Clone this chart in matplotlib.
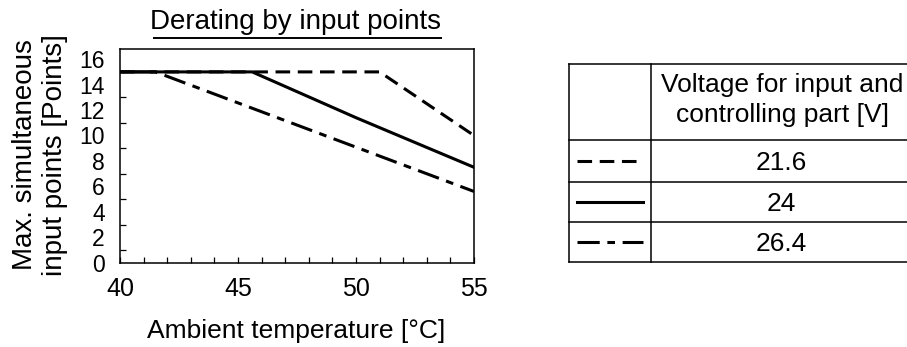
import matplotlib
matplotlib.use("Agg")
import matplotlib.pyplot as plt

plt.rcParams['font.family'] = ['Liberation Sans', 'DejaVu Sans']
plt.rcParams['lines.scale_dashes'] = False

# ---- data ----
temp_216 = [40, 51, 55]
pts_216 = [15, 15, 10]
temp_24 = [40, 45.6, 50, 55]
pts_24 = [15, 15, 11.4, 7.5]
temp_264 = [40, 41.5, 55]
pts_264 = [15, 15, 5.6]
voltages = ["21.6", "24", "26.4"]
xticks = [40, 45, 50, 55]
yticks = [0, 2, 4, 6, 8, 10, 12, 14, 16]
title = "Derating by input points"
xlabel = "Ambient temperature [\u00b0C]"
ylabel_lines = ["Max. simultaneous", "input points [Points]"]
header_lines = ["Voltage for input and", "controlling part [V]"]

W, H = 907, 347
fig = plt.figure(figsize=(W / 100, H / 100), dpi=100)

# main axes in pixel layout
L, R, T, B = 120, 474, 49, 262.7
ax = fig.add_axes([L / W, (H - B) / H, (R - L) / W, (B - T) / H])
ax.set_xlim(40, 55)
ax.set_ylim(0, 16.8)

dash_216 = (0, (10.5, 5.5))
dash_264 = (0, (16, 5.5, 5.5, 5.5))
styles = [dash_216, '-', dash_264]
lw = 2.2
ax.plot(temp_216, pts_216, color='black', lw=lw, linestyle=dash_216)
ax.plot(temp_264, pts_264, color='black', lw=lw, linestyle=dash_264)
ax.plot(temp_24, pts_24, color='black', lw=lw, linestyle='-')

for s in ax.spines.values():
    s.set_linewidth(1.1)

ax.set_xticks(xticks)
ax.set_xticklabels([str(v) for v in xticks], fontsize=18)
ax.set_xticks(range(41, 55), minor=True)
ax.tick_params(axis='x', which='major', direction='in', length=4, width=0.9, pad=10)
ax.tick_params(axis='x', which='minor', direction='in', length=4, width=0.9)

ax.set_yticks(yticks)
ax.set_yticklabels([str(v) for v in yticks], fontsize=16.5)
ax.set_yticks(range(1, 17, 2), minor=True)
ax.tick_params(axis='y', which='major', length=0, pad=11)
ax.tick_params(axis='y', which='minor', direction='in', length=4, width=0.9)

# overlay in pixel coordinates
ov = fig.add_axes([0, 0, 1, 1])
ov.set_xlim(0, W)
ov.set_ylim(H, 0)
ov.axis('off')
ov.patch.set_visible(False)

# title with underline
ov.text(296, 29, title, fontsize=20, ha='center', va='baseline')
ov.plot([153, 442], [38, 38], color='black', lw=1.4, solid_capstyle='butt')

# axis labels
ov.text(296.5, 338, xlabel, fontsize=19, ha='center', va='baseline')
ov.text(25, 155, ylabel_lines[0], fontsize=20, rotation=90, ha='center', va='center')
ov.text(55, 155, ylabel_lines[1], fontsize=20, rotation=90, ha='center', va='center')

# table
tl, tdiv, tr = 568.5, 650.7, 912
rows = [64, 140, 181.7, 221.7, 262.3]
tlw = 1.1
for y in rows:
    ov.plot([tl, tr], [y, y], color='black', lw=tlw, solid_capstyle='projecting', clip_on=False)
ov.plot([tl, tl], [rows[0], rows[-1]], color='black', lw=tlw, solid_capstyle='projecting')
ov.plot([tdiv, tdiv], [rows[0], rows[-1]], color='black', lw=tlw, solid_capstyle='projecting')

ov.text(782, 91.5, header_lines[0], fontsize=19, ha='center', va='baseline')
ov.text(782, 122, header_lines[1], fontsize=19, ha='center', va='baseline')

baselines = [170, 210.5, 251]
for i, v in enumerate(voltages):
    yc = (rows[i + 1] + rows[i + 2]) / 2
    ov.plot([577, 643], [yc, yc], color='black', lw=lw, linestyle=styles[i])
    ov.text(781, baselines[i], v, fontsize=19, ha='center', va='baseline')

fig.savefig("out.png", dpi=100)
